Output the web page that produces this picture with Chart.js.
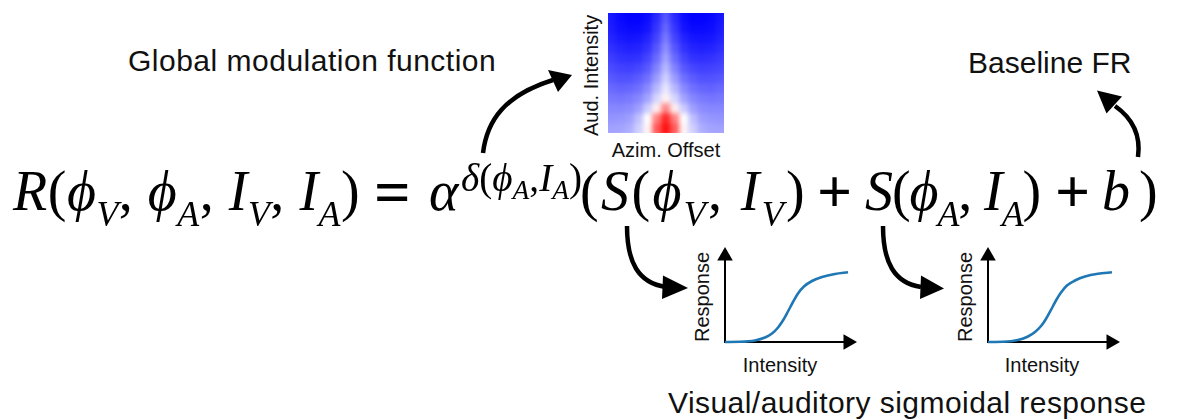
<!DOCTYPE html>
<html>
<head>
<meta charset="utf-8">
<script src="https://cdn.jsdelivr.net/npm/chart.js@4.4.0/dist/chart.umd.min.js"></script>
<style>
  html, body { margin:0; padding:0; background:#fff; }
  #stage { position:relative; width:1180px; height:419px; overflow:hidden; background:#fff; }
  .lbl { position:absolute; font-family:'Liberation Sans', Arial, Helvetica, sans-serif; color:#111; white-space:nowrap; }
  .big { font-size:30px; line-height:30px; }
  .small { font-size:20px; line-height:20px; text-align:center; }
  .rot { transform:rotate(-90deg); transform-origin:50% 50%; }
  #eq { position:absolute; left:0; top:163px; width:1180px; height:80px; font-family:'Liberation Serif','Times New Roman',serif; font-size:56px; line-height:56px; color:#000; }
  #eq .seg { position:absolute; top:0; white-space:nowrap; }
  #eq .i { font-style:italic; }
  #eq .sb { font-size:0.64em; position:relative; top:0.45em; }
  #eq .sp { font-size:0.7em; position:relative; top:-0.48em; }
  #eq .sp .sb2 { font-size:0.7em; position:relative; top:0.3em; }
  #eq .op { font-weight:bold; font-size:1.1em; }
  #eq .eqs { font-weight:bold; font-size:1.15em; }
  #heatWrap { position:absolute; left:608px; top:13px; width:116px; height:120px; overflow:hidden; }
  #heatWrap canvas { position:absolute; left:-10px; top:-10px; filter:blur(2.8px); }
  .sig { position:absolute; }
  svg { position:absolute; left:0; top:0; pointer-events:none; }
</style>
</head>
<body>
<div id="stage">
  <div class="lbl big" style="left:128px; top:46px; letter-spacing:0.5px;">Global modulation function</div>
  <div class="lbl big" style="left:968px; top:48px;">Baseline FR</div>
  <div class="lbl big" style="left:668px; top:388px; letter-spacing:0.45px;">Visual/auditory sigmoidal response</div>

  <div class="lbl small rot" style="left:531px; top:66px; width:120px; height:20px;">Aud. Intensity</div>
  <div class="lbl small" style="left:606px; top:140px; width:120px; height:20px;">Azim. Offset</div>

  <div id="heatWrap"><canvas id="heat" width="136" height="140"></canvas></div>

  <canvas class="sig" id="sig1" width="152" height="115" style="left:715px; top:237px;"></canvas>
  <canvas class="sig" id="sig2" width="152" height="115" style="left:978px; top:237px;"></canvas>

  <div class="lbl small rot" style="left:652px; top:287px; width:100px; height:20px;">Response</div>
  <div class="lbl small" style="left:730px; top:355px; width:100px; height:20px;">Intensity</div>
  <div class="lbl small rot" style="left:915px; top:287px; width:100px; height:20px;">Response</div>
  <div class="lbl small" style="left:992px; top:355px; width:100px; height:20px;">Intensity</div>

  <div id="eq">
    <span class="seg fit" data-w="347" style="left:13px;"><span class="i">R</span>(<span class="i">ϕ</span><span class="sb i">V</span>, <span class="i">ϕ</span><span class="sb i">A</span>, <span class="i">I</span><span class="sb i">V</span>, <span class="i">I</span><span class="sb i">A</span>)</span>
    <span class="seg eqs" style="left:374px; top:2px;">=</span>
    <span class="seg i" style="left:429px;">α</span>
    <span class="seg" style="left:461px;"><span class="sp"><span class="i">δ</span>(<span class="i">ϕ</span><span class="sb2 i">A</span>,<span class="i">I</span><span class="sb2 i">A</span>)</span></span>
    <span class="seg fit" data-w="227" style="left:580px;">(<span class="i">S</span>(<span class="i">ϕ</span><span class="sb i">V</span>, <span class="i">I</span><span class="sb i">V</span>)</span>
    <span class="seg op" style="left:817px;">+</span>
    <span class="seg fit" data-w="175" style="left:865px;"><span class="i">S</span>(<span class="i">ϕ</span><span class="sb i">A</span>, <span class="i">I</span><span class="sb i">A</span>)</span>
    <span class="seg op" style="left:1055px;">+</span>
    <span class="seg i" style="left:1102px;">b</span>
    <span class="seg" style="left:1139px;">)</span>
  </div>

  <svg width="1180" height="419" viewBox="0 0 1180 419">
    <g fill="none" stroke="#000" stroke-width="4.5" stroke-linecap="butt">
      <path d="M 483 153 C 487 120, 505 95, 553 80"/>
      <path d="M 1138 157 C 1141 135, 1132 118, 1115 106"/>
      <path d="M 627 226 C 627 262, 638 283, 666 287"/>
      <path d="M 883 226 C 883 262, 894 283, 921 287"/>
    </g>
    <g fill="#000">
      <polygon points="572,75 548,70 558,92"/>
      <polygon points="1097,90.5 1122,96.5 1106.5,113.5"/>
      <polygon points="688,288 663,275.5 662,299"/>
      <polygon points="944,288.5 921,275.5 920,299"/>
    </g>
  </svg>
</div>

<script>
// ---------- Data ----------
// Heatmap: azimuth offset columns (left -> right), auditory intensity rows (top = high -> bottom = low)
const azimOffsets = ['-70','-60','-50','-40','-30','-20','-10','0','10','20','30','40','50','60','70'];
const audIntensities = ['100','93','86','79','71','64','57','50','43','36','29','21','14','7'];
// modulation value per cell, -1 (blue) .. 0 (white) .. +1 (red)
const heatValues = [
  [-0.84,-0.92,-0.97,-1.00,-1.00,-0.97,-0.86,-0.70,-0.86,-0.97,-1.00,-1.00,-0.98,-0.93,-0.86],
  [-0.83,-0.91,-0.96,-0.99,-0.99,-0.95,-0.83,-0.66,-0.83,-0.95,-0.99,-0.99,-0.97,-0.92,-0.85],
  [-0.81,-0.89,-0.94,-0.96,-0.96,-0.92,-0.79,-0.60,-0.79,-0.92,-0.96,-0.96,-0.95,-0.90,-0.82],
  [-0.78,-0.86,-0.90,-0.92,-0.91,-0.86,-0.73,-0.53,-0.73,-0.86,-0.91,-0.92,-0.91,-0.87,-0.79],
  [-0.74,-0.81,-0.85,-0.87,-0.86,-0.80,-0.66,-0.45,-0.66,-0.80,-0.86,-0.87,-0.86,-0.82,-0.75],
  [-0.70,-0.76,-0.80,-0.81,-0.80,-0.73,-0.58,-0.37,-0.58,-0.73,-0.80,-0.81,-0.80,-0.77,-0.71],
  [-0.65,-0.71,-0.74,-0.75,-0.72,-0.65,-0.49,-0.28,-0.49,-0.65,-0.72,-0.75,-0.74,-0.72,-0.66],
  [-0.60,-0.65,-0.68,-0.68,-0.64,-0.56,-0.39,-0.19,-0.39,-0.56,-0.64,-0.68,-0.68,-0.66,-0.61],
  [-0.55,-0.59,-0.61,-0.60,-0.56,-0.46,-0.28,-0.10,-0.28,-0.46,-0.56,-0.60,-0.61,-0.59,-0.56],
  [-0.50,-0.53,-0.54,-0.52,-0.47,-0.36,-0.16, 0.05,-0.16,-0.36,-0.47,-0.52,-0.54,-0.53,-0.51],
  [-0.45,-0.47,-0.47,-0.45,-0.38,-0.20, 0.06, 0.48, 0.06,-0.20,-0.38,-0.45,-0.47,-0.47,-0.46],
  [-0.40,-0.42,-0.41,-0.38,-0.25, 0.00, 0.50, 0.85, 0.50, 0.00,-0.25,-0.38,-0.41,-0.42,-0.41],
  [-0.35,-0.37,-0.36,-0.32,-0.19, 0.04, 0.65, 0.94, 0.65, 0.04,-0.19,-0.32,-0.36,-0.37,-0.36],
  [-0.31,-0.32,-0.31,-0.27,-0.16, 0.02, 0.55, 0.80, 0.55, 0.02,-0.16,-0.27,-0.31,-0.32,-0.31]
];

// Sigmoid responses (intensity along x axis, response up the y axis; 1 = axis tip)
const visIntensity = [0, 0.114, 0.227, 0.303, 0.356, 0.402, 0.439, 0.477, 0.515, 0.553, 0.598, 0.659, 0.735, 0.833, 0.932];
const visResponse  = [0, 0.002, 0.016, 0.047, 0.089, 0.153, 0.226, 0.321, 0.421, 0.511, 0.584, 0.642, 0.684, 0.716, 0.734];
const audIntensity = [0, 0.114, 0.227, 0.303, 0.356, 0.402, 0.439, 0.477, 0.515, 0.553, 0.598, 0.659, 0.735, 0.833, 0.939];
const audResponse  = [0, 0.002, 0.021, 0.058, 0.105, 0.168, 0.242, 0.337, 0.437, 0.521, 0.595, 0.647, 0.689, 0.718, 0.734];

// ---------- Equation spacing (fit each group to its measured width) ----------
document.querySelectorAll('#eq .fit').forEach(el => {
  const target = parseFloat(el.dataset.w);
  const w = el.getBoundingClientRect().width;
  const n = el.textContent.length;
  el.style.letterSpacing = ((target - w) / n).toFixed(2) + 'px';
});

// ---------- Helpers ----------
function bwr(v) {
  v = Math.max(-1, Math.min(1, v));
  let r, g, b;
  if (v < 0) { r = g = Math.round(255 * (1 + v)); b = 255; }
  else { r = 255; g = b = Math.round(255 * (1 - v)); }
  return `rgb(${r},${g},${b})`;
}

// ---------- Heatmap (stacked bars as cells) ----------
new Chart(document.getElementById('heat'), {
  type: 'bar',
  data: {
    labels: azimOffsets,
    datasets: heatValues.map((row, i) => ({
      label: audIntensities[i],
      data: row.map(() => 1),
      backgroundColor: row.map(bwr),
      borderWidth: 0,
      barPercentage: 1,
      categoryPercentage: 1,
      stack: 'cells'
    }))
  },
  options: {
    responsive: false, animation: false, events: [],
    layout: { padding: 0 },
    scales: {
      x: { stacked: true, display: false },
      y: { stacked: true, display: false, min: 0, max: audIntensities.length, reverse: true }
    },
    plugins: { legend: { display: false }, tooltip: { enabled: false } }
  }
});

// ---------- Sigmoid charts ----------
function sigmoidChart(id, xs, ys) {
  const axis = { borderColor: '#000', borderWidth: 2, pointStyle: 'triangle', pointBackgroundColor: '#000',
                 pointBorderColor: '#000', pointBorderWidth: 0, borderCapStyle: 'square', clip: false };
  new Chart(document.getElementById(id), {
    type: 'line',
    data: {
      datasets: [
        { data: xs.map((x, i) => ({ x, y: ys[i] })), borderColor: '#1f77b4', borderWidth: 2.6,
          pointRadius: 0, cubicInterpolationMode: 'monotone', clip: false, fill: false },
        Object.assign({ data: [{ x: 0, y: 0 }, { x: 0, y: 0.905 }], pointRadius: [0, 9], pointRotation: 0 }, axis),
        Object.assign({ data: [{ x: 0, y: 0 }, { x: 0.932, y: 0 }], pointRadius: [0, 9], pointRotation: 90 }, axis)
      ]
    },
    options: {
      responsive: false, animation: false, events: [],
      layout: { padding: { left: 10, right: 10, top: 10, bottom: 10 } },
      scales: {
        x: { type: 'linear', min: 0, max: 1, display: false },
        y: { type: 'linear', min: 0, max: 1, display: false }
      },
      plugins: { legend: { display: false }, tooltip: { enabled: false } }
    }
  });
}
sigmoidChart('sig1', visIntensity, visResponse);
sigmoidChart('sig2', audIntensity, audResponse);
</script>
</body>
</html>
